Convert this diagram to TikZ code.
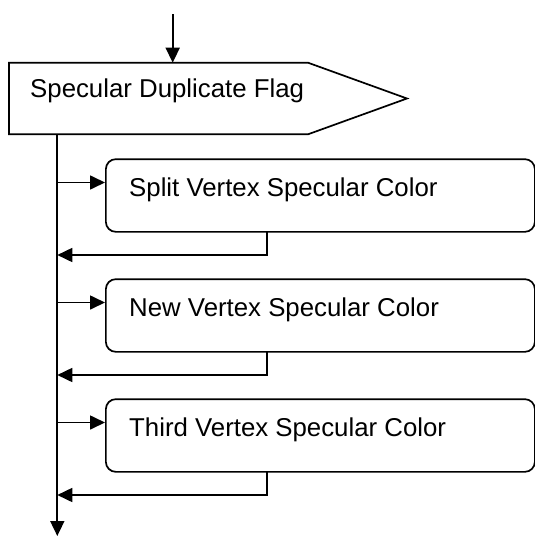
\documentclass[tikz,border=0pt]{standalone}
\usepackage{fontspec}
\setmainfont{Liberation Sans}
\usetikzlibrary{arrows.meta,calc}
\begin{document}
\begin{tikzpicture}[x=1pt,y=-1pt,
  line/.style={line width=1.7pt},
  arr/.style={line, -{Triangle[length=15pt,width=14pt]}},
  box/.style={draw, line width=1.7pt, rounded corners=10pt, minimum width=429pt, minimum height=72.7pt, anchor=north west, inner sep=0pt},
  lbl/.style={anchor=base west, inner sep=0pt, font=\fontsize{25.8}{30}\selectfont}]
\useasboundingbox (0,0) rectangle (535,536);
\coordinate (start) at (172.7,14);
\coordinate (flagtop) at (172.7,62.7);
\draw[line, line join=miter] (9,62.7) -- (308,62.7) -- (407,98.5) -- (308,134.3) -- (9,134.3) -- cycle;
\node[lbl] (flag) at (30,97.7) {Specular Duplicate Flag};
\coordinate (trunktop) at (57.3,134.3);
\coordinate (trunkend) at (57.3,536);
\draw[arr] (start) -- (flagtop);
\draw[arr] (trunktop) -- (trunkend);
\foreach \i/\t in {0/Split,1/New,2/Third} {
  \node[box] (b\i) at (105,158.3+120*\i) {};
  \node[lbl] (t\i) at (129,196.7+120*\i) {\t{} Vertex Specular Color};
  \coordinate (in\i) at (57.3,182.5+120*\i);
  \draw[arr] (in\i) -- (in\i -| b\i.west);
  \coordinate (out\i) at (267,231+120*\i);
  \coordinate (ret\i) at (267,255+120*\i);
  \draw[arr] (out\i) -- (ret\i) -- (ret\i -| trunktop);
}
\end{tikzpicture}
\end{document}
